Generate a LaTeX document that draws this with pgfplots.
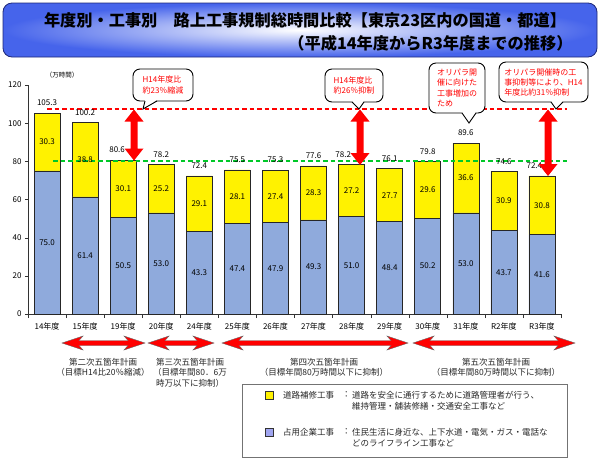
\documentclass[border=0pt]{standalone}
\usepackage{fontspec}
\setmainfont{Noto Sans CJK JP}
\usepackage{pgfplots}
\usepackage{pgfplotstable}
\pgfplotsset{compat=1.18}

\definecolor{barblue}{RGB}{143,170,220}
\definecolor{legblue}{RGB}{160,165,240}
\definecolor{titleblue}{RGB}{70,100,235}
\definecolor{titleedge}{RGB}{30,40,120}
\definecolor{lgreen}{RGB}{0,200,40}
\definecolor{lred}{RGB}{255,0,0}

% x: 0..13 = 年度, blue = 占用企業工事, yellow = 道路補修工事
\pgfplotstableread{
x blue yellow total dx
0  75.0 30.3 105.3 0
1  61.4 38.8 100.2 0
2  50.5 30.1 80.6 -0.16
3  53.0 25.2 78.2 0
4  43.3 29.1 72.4 0
5  47.4 28.1 75.5 0
6  47.9 27.4 75.3 0
7  49.3 28.3 77.6 0
8  51.0 27.2 78.2 -0.22
9  48.4 27.7 76.1 0
10 50.2 29.6 79.8 0
11 53.0 36.6 89.6 0
12 43.7 30.9 74.6 0
13 41.6 30.8 72.4 -0.2
}\kouji

% callout: box x1,y1,x2,y2 ; tail base b1,b2 ; tip px,py
\newcommand{\callout}[8]{%
  \draw[line width=0.9pt, fill=white, rounded corners=7pt] (#1,#2) rectangle (#3,#4);
  \fill[white] (#5,#4-1.2) -- (#7,#8) -- (#6,#4-1.2) -- cycle;
  \draw[line width=0.9pt] (#5,#4) -- (#7,#8) -- (#6,#4);}
% vertical double arrow at x from y1 to y2
\newcommand{\varrow}[3]{%
  \fill[red] (#1,#2) -- ++(9.5,12) -- ++(-6,0) -- (#1+3.5,#3-12) -- ++(6,0)
    -- (#1,#3) -- ++(-9.5,-12) -- ++(6,0) -- (#1-3.5,#2+12) -- ++(-6,0) -- cycle;}
% horizontal double arrow from x1 to x2 at y
\newcommand{\harrow}[3]{%
  \filldraw[fill=red, draw=black!60, line width=0.4pt] (#1,#3) -- (#1+21,#3-7) -- (#1+17,#3-2.5)
    -- (#2-17,#3-2.5) -- (#2-21,#3-7) -- (#2,#3) -- (#2-21,#3+7) -- (#2-17,#3+2.5)
    -- (#1+17,#3+2.5) -- (#1+21,#3+7) -- cycle;}

\begin{document}
\begin{tikzpicture}[x=1pt,y=-1pt]
\path[use as bounding box] (0,0) rectangle (600,459);

% title box
\shade[rounded corners=9pt, inner color=white, outer color=titleblue] (3,3) rectangle (597,57);
\draw[rounded corners=9pt, line width=0.8pt, draw=titleedge] (3,3) rectangle (597,57);
\node[font=\fontsize{16.2}{18}\selectfont\bfseries] at (305,20)
  {年度別・工事別　路上工事規制総時間比較【東京23区内の国道・都道】};
\node[font=\fontsize{16.2}{18}\selectfont\bfseries, anchor=east] at (576,43)
  {（平成14年度からR3年度までの推移）};

\node[font=\fontsize{6.5}{7}\selectfont] at (62,75) {（万時間）};

\begin{axis}[
    at={(28pt,-314pt)}, anchor=south west,
    scale only axis, width=533pt, height=229pt,
    ybar stacked, bar width=26pt,
    xmin=-0.5, xmax=13.5, ymin=0, ymax=120,
    ytick={0,20,...,120},
    xtick={0,...,13},
    xticklabels={14年度,15年度,19年度,20年度,24年度,25年度,26年度,27年度,28年度,29年度,30年度,31年度,R2年度,R3年度},
    minor xtick={-0.5,0.5,...,13.5},
    axis x line*=bottom, axis y line*=left,
    axis line style={black!80, -},
    tick align=outside,
    major tick length=3pt, minor tick length=4pt,
    major x tick style={draw=none},
    tick style={black!80},
    ticklabel style={font=\fontsize{8}{9}\selectfont},
    xticklabel style={yshift=-2pt},
    /pgf/number format/assume math mode=true,
    clip=false,
]
\addplot[fill=barblue, draw=black!85, line width=0.6pt] table[x=x, y=blue] {\kouji};
\addplot[fill=yellow, draw=black!85, line width=0.6pt] table[x=x, y=yellow] {\kouji};
\end{axis}

% reference lines (H14 level and 80万時間)
\draw[draw=lred, line width=1.6pt, dash pattern=on 4.5pt off 3pt] (47,109.2) -- (567,109.2);
\draw[draw=lgreen, line width=1.8pt, dash pattern=on 4.5pt off 3pt] (53,161.3) -- (567,161.3);

% value labels
\begin{axis}[
    at={(28pt,-314pt)}, anchor=south west,
    scale only axis, width=533pt, height=229pt,
    xmin=-0.5, xmax=13.5, ymin=0, ymax=120,
    hide axis, clip=false,
    nodes near coords, point meta=explicit symbolic,
    every node near coord/.append style={font=\fontsize{8}{9}\selectfont, anchor=center, text=black},
]
\addplot[draw=none, mark=none] table[x=x, y expr=\thisrow{blue}/2, meta=blue] {\kouji};
\addplot[draw=none, mark=none] table[x=x, y expr=\thisrow{blue}+\thisrow{yellow}/2, meta=yellow] {\kouji};
\addplot[draw=none, mark=none, every node near coord/.append style={anchor=south, yshift=4pt}]
  table[x expr=\thisrow{x}+\thisrow{dx}, y=total, meta=total] {\kouji};
\end{axis}

% vertical arrows
\varrow{134}{109.5}{160.5}
\varrow{360}{109.5}{165}
\varrow{548}{109.5}{176}

% callouts
\callout{133}{69}{193}{101}{145}{157}{143}{109}
\node[text=red, font=\fontsize{8}{10.5}\selectfont, align=left] at (163,85) {H14年度比\\約23％縮減};
\callout{325}{69}{383}{102}{352}{364}{359}{109}
\node[text=red, font=\fontsize{8}{10.5}\selectfont, align=left] at (354,85.5) {H14年度比\\約26％抑制};
\callout{429}{63}{485}{113}{462}{476}{469}{123}
\node[text=red, font=\fontsize{8}{10.2}\selectfont, align=left] at (457,88) {オリパラ開\\催に向けた\\工事増加の\\ため};
\callout{499}{62}{588}{102}{551}{563}{556}{109}
\node[text=red, font=\fontsize{8}{10}\selectfont, align=left] at (543.5,82) {オリパラ開催時の工\\事抑制等により、H14\\年度比約31％抑制};

% plan arrows
\harrow{62}{145}{343}
\harrow{148}{214}{343}
\harrow{222}{408}{343}
\harrow{413}{575}{343}

\begin{scope}[every node/.style={font=\fontsize{8.5}{10.5}\selectfont, align=center, text=black!85}]
\node at (103,367.5) {第二次五箇年計画\\（目標H14比20％縮減）};
\node at (190,372.5) {第三次五箇年計画\\（目標年間80．6万\\時万以下に抑制）};
\node at (324,367.5) {第四次五箇年計画\\（目標年間80万時間以下に抑制）};
\node at (496,367.5) {第五次五箇年計画\\（目標年間80万時間以下に抑制）};
\end{scope}

% legend
\draw[black!55, line width=0.7pt] (242,384) rectangle (567,457);
\filldraw[fill=yellow, draw=black!80, line width=0.5pt] (265,391) rectangle (273,399);
\filldraw[fill=legblue, draw=black!80, line width=0.5pt] (265,428) rectangle (273,436);
\begin{scope}[every node/.style={font=\fontsize{8.5}{10}\selectfont, anchor=west, inner sep=0pt, text=black!85}]
\node at (283,395) {道路補修工事};
\node at (342,395) {：};
\node at (352,395) {道路を安全に通行するために道路管理者が行う、};
\node at (352,406) {維持管理・舗装修繕・交通安全工事など};
\node at (283,432) {占用企業工事};
\node at (342,432) {：};
\node at (352,432) {住民生活に身近な、上下水道・電気・ガス・電話な};
\node at (352,443) {どのライフライン工事など};
\end{scope}
\end{tikzpicture}
\end{document}
